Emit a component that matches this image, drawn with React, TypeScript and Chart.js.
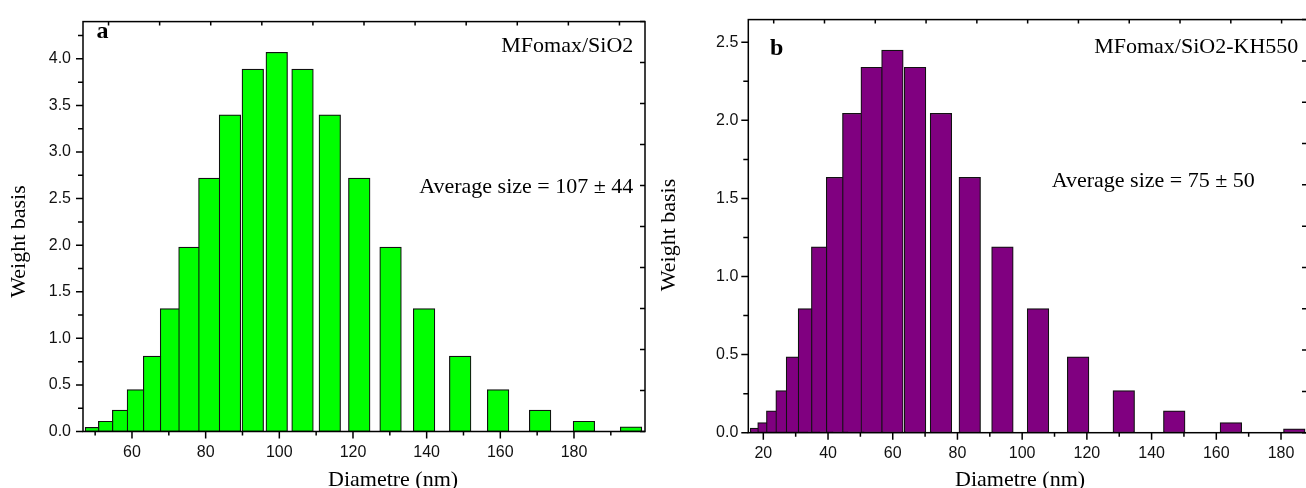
import React, { useEffect, useRef } from "react";
import { Chart, registerables } from "chart.js";

Chart.register(...registerables);

// ---------- data ----------
const diameterA = [50.2, 53.8, 57.6, 61.6, 66.0, 70.6, 75.6, 81.0, 86.6, 92.8, 99.3, 106.3, 113.7, 121.7, 130.2, 139.3, 149.1, 159.4, 170.8, 182.7, 195.5];
const weightA = [0.045, 0.11, 0.23, 0.45, 0.81, 1.32, 1.98, 2.72, 3.4, 3.89, 4.07, 3.89, 3.4, 2.72, 1.98, 1.32, 0.81, 0.45, 0.23, 0.11, 0.05];

const diameterB = [19.3, 21.6, 24.3, 27.2, 30.4, 34.1, 38.2, 42.8, 47.8, 53.5, 59.9, 66.9, 74.9, 83.8, 93.9, 104.9, 117.3, 131.4, 147.0, 164.5, 184.1];
const weightB = [0.03, 0.065, 0.14, 0.27, 0.485, 0.795, 1.19, 1.635, 2.045, 2.34, 2.45, 2.34, 2.045, 1.635, 1.19, 0.795, 0.485, 0.27, 0.14, 0.065, 0.025];

const xTicksA = [60, 80, 100, 120, 140, 160, 180];
const xMinorA = [50, 70, 90, 110, 130, 150, 170, 190];
const yTicksA = [0, 0.5, 1, 1.5, 2, 2.5, 3, 3.5, 4];
const yMinorA = [0.25, 0.75, 1.25, 1.75, 2.25, 2.75, 3.25, 3.75, 4.25];

const xTicksB = [20, 40, 60, 80, 100, 120, 140, 160, 180];
const xMinorB = [30, 50, 70, 90, 110, 130, 150, 170];
const yTicksB = [0, 0.5, 1, 1.5, 2, 2.5];
const yMinorB = [0.25, 0.75, 1.25, 1.75, 2.25];

const mirrorTicks = [0, 1, 2, 3, 4, 5, 6, 7, 8, 9, 10];

const SERIF = "'Liberation Serif', 'Times New Roman', serif";
const SANS = "'Liberation Sans', Arial, sans-serif";

type TextItem = { text: string; x: number; y: number; font: string; align: CanvasTextAlign; rotate?: boolean };

type Panel = {
  width: number;
  height: number;
  left: number;
  xs: number[];
  ys: number[];
  color: string;
  xMin: number;
  xMax: number;
  yMax: number;
  padTop: number;
  padRight: number;
  yWidth: number;
  xHeight: number;
  yLabelPad: number;
  xLabelPad: number;
  xTicks: number[];
  xMinor: number[];
  yTicks: number[];
  yMinor: number[];
  texts: TextItem[];
};

const panelA: Panel = {
  width: 653,
  height: 488,
  left: 0,
  xs: diameterA,
  ys: weightA,
  color: "#00ff00",
  xMin: 46.7,
  xMax: 199.28,
  yMax: 4.4,
  padTop: 12.7,
  padRight: 8,
  yWidth: 83,
  xHeight: 56.5,
  yLabelPad: 12,
  xLabelPad: 11,
  xTicks: xTicksA,
  xMinor: xMinorA,
  yTicks: yTicksA,
  yMinor: yMinorA,
  texts: [
    { text: "a", x: 96.5, y: 37.5, font: `bold 24px ${SERIF}`, align: "left" },
    { text: "MFomax/SiO2", x: 633.3, y: 52, font: `22px ${SERIF}`, align: "right" },
    { text: "Average size = 107 ± 44", x: 633.3, y: 192.5, font: `22px ${SERIF}`, align: "right" },
    { text: "Diametre (nm)", x: 328, y: 485.5, font: `22px ${SERIF}`, align: "left" },
    { text: "Weight basis", x: 24.5, y: 241.5, font: `22px ${SERIF}`, align: "center", rotate: true },
  ],
};

const panelB: Panel = {
  width: 660,
  height: 488,
  left: 653,
  xs: diameterB,
  ys: weightB,
  color: "#800080",
  xMin: 15.36,
  xMax: 188.03,
  yMax: 2.645,
  padTop: 16.3,
  padRight: 6,
  yWidth: 95.3,
  xHeight: 55.3,
  yLabelPad: 10,
  xLabelPad: 11,
  xTicks: xTicksB,
  xMinor: xMinorB,
  yTicks: yTicksB,
  yMinor: yMinorB,
  texts: [
    { text: "b", x: 117, y: 55, font: `bold 24px ${SERIF}`, align: "left" },
    { text: "MFomax/SiO2-KH550", x: 645.3, y: 53, font: `22px ${SERIF}`, align: "right" },
    { text: "Average size = 75 ± 50", x: 398.7, y: 186.5, font: `22px ${SERIF}`, align: "left" },
    { text: "Diametre (nm)", x: 302, y: 485.5, font: `22px ${SERIF}`, align: "left" },
    { text: "Weight basis", x: 21.5, y: 235, font: `22px ${SERIF}`, align: "center", rotate: true },
  ],
};

function decorPlugin(p: Panel) {
  return {
    id: "decor",
    afterDraw(chart: any) {
      const { ctx, chartArea: a, scales } = chart;
      const x = scales.x;
      const y = scales.y;
      const x2 = scales.x2;
      const y2 = scales.y2;
      ctx.save();
      ctx.strokeStyle = "#000";
      ctx.lineWidth = 1.5;
      ctx.beginPath();
      // bottom axis ticks (outward)
      p.xTicks.forEach((v) => {
        const px = x.getPixelForValue(v);
        ctx.moveTo(px, a.bottom);
        ctx.lineTo(px, a.bottom + 7);
      });
      p.xMinor.forEach((v) => {
        if (v < p.xMin || v > p.xMax) return;
        const px = x.getPixelForValue(v);
        ctx.moveTo(px, a.bottom);
        ctx.lineTo(px, a.bottom + 4);
      });
      // left axis ticks (outward)
      p.yTicks.forEach((v) => {
        const py = y.getPixelForValue(v);
        ctx.moveTo(a.left - 7, py);
        ctx.lineTo(a.left, py);
      });
      p.yMinor.forEach((v) => {
        if (v > p.yMax) return;
        const py = y.getPixelForValue(v);
        ctx.moveTo(a.left - 5, py);
        ctx.lineTo(a.left, py);
      });
      // mirror axes (inward)
      mirrorTicks.forEach((v) => {
        const px = x2.getPixelForValue(v);
        ctx.moveTo(px, a.top);
        ctx.lineTo(px, a.top + 4);
        const py = y2.getPixelForValue(v);
        ctx.moveTo(a.right - 5, py);
        ctx.lineTo(a.right, py);
      });
      ctx.stroke();
      ctx.strokeRect(a.left, a.top, a.right - a.left, a.bottom - a.top);

      ctx.fillStyle = "#000";
      ctx.textBaseline = "alphabetic";
      p.texts.forEach((t) => {
        ctx.font = t.font;
        ctx.textAlign = t.align;
        if (t.rotate) {
          ctx.save();
          ctx.translate(t.x, t.y);
          ctx.rotate(-Math.PI / 2);
          ctx.fillText(t.text, 0, 0);
          ctx.restore();
        } else {
          ctx.fillText(t.text, t.x, t.y);
        }
      });
      ctx.restore();
    },
  };
}

function buildConfig(p: Panel): any {
  return {
    type: "bar",
    data: {
      datasets: [
        {
          data: p.xs.map((xv, i) => ({ x: xv, y: p.ys[i] })),
          backgroundColor: p.color,
          borderColor: "#111",
          borderWidth: 1.2,
          borderSkipped: false,
          barThickness: 21.6,
        },
      ],
    },
    options: {
      responsive: false,
      animation: false,
      devicePixelRatio: 1,
      layout: { padding: { left: 0, top: p.padTop, right: p.padRight, bottom: 0 } },
      plugins: { legend: { display: false }, tooltip: { enabled: false }, title: { display: false } },
      scales: {
        x: {
          type: "linear",
          position: "bottom",
          min: p.xMin,
          max: p.xMax,
          offset: false,
          grid: { display: false, drawTicks: false },
          border: { display: false },
          afterBuildTicks: (s: any) => {
            s.ticks = p.xTicks.map((v) => ({ value: v }));
          },
          afterFit: (s: any) => {
            s.height = p.xHeight;
          },
          ticks: {
            autoSkip: false,
            maxRotation: 0,
            padding: p.xLabelPad,
            color: "#111",
            font: { family: SANS, size: 16 },
            callback: (v: any) => String(v),
          },
        },
        y: {
          type: "linear",
          position: "left",
          min: 0,
          max: p.yMax,
          grid: { display: false, drawTicks: false },
          border: { display: false },
          afterBuildTicks: (s: any) => {
            s.ticks = p.yTicks.map((v) => ({ value: v }));
          },
          afterFit: (s: any) => {
            s.width = p.yWidth;
          },
          ticks: {
            autoSkip: false,
            padding: p.yLabelPad,
            color: "#111",
            font: { family: SANS, size: 16 },
            callback: (v: any) => Number(v).toFixed(1),
          },
        },
        x2: { type: "linear", position: "top", display: false, min: 0, max: 10 },
        y2: { type: "linear", position: "right", display: false, min: 0, max: 10 },
      },
    },
    plugins: [decorPlugin(p)],
  };
}

function PanelChart({ p }: { p: Panel }) {
  const ref = useRef<HTMLCanvasElement | null>(null);
  useEffect(() => {
    if (!ref.current) return;
    const chart = new Chart(ref.current, buildConfig(p));
    return () => chart.destroy();
  }, [p]);
  return (
    <canvas
      ref={ref}
      width={p.width}
      height={p.height}
      style={{ position: "absolute", left: p.left, top: 0, width: p.width, height: p.height, display: "block" }}
    />
  );
}

export default function App() {
  return (
    <div
      style={{
        position: "fixed",
        left: 0,
        top: 0,
        width: 1306,
        height: 488,
        overflow: "hidden",
        background: "#fff",
      }}
    >
      <PanelChart p={panelA} />
      <PanelChart p={panelB} />
    </div>
  );
}
